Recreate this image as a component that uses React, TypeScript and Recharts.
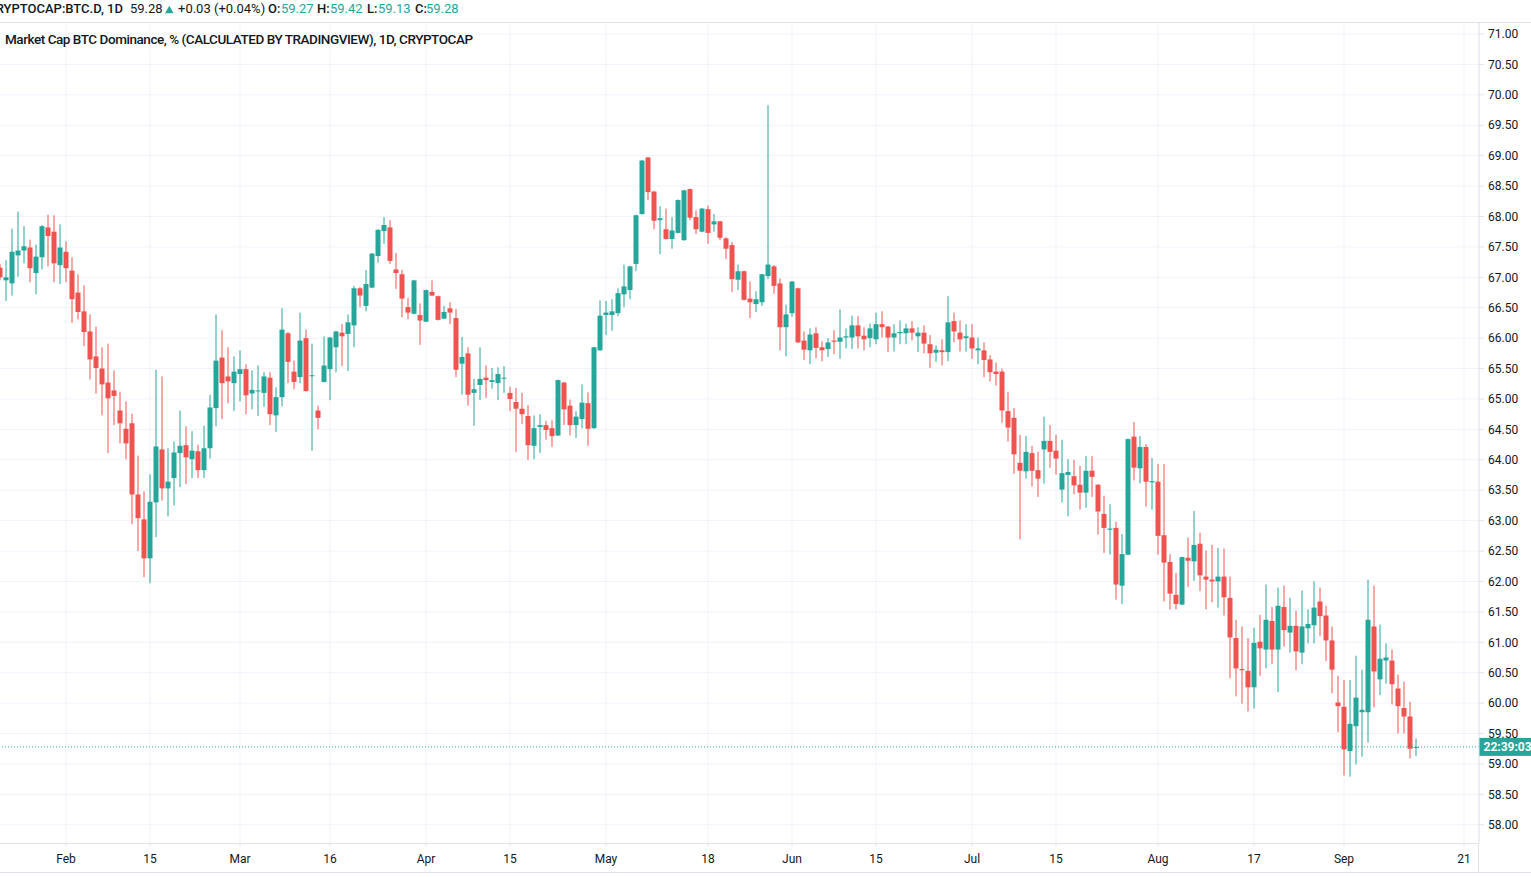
import React from "react";
import {
  Bar,
  CartesianGrid,
  ComposedChart,
  ReferenceLine,
  XAxis,
  YAxis,
} from "recharts";

const UP = "#26a69a";
const DOWN = "#ef5350";
const TEXT = "#131722";
const GRID = "#f0f3fa";
const BORDER = "#e0e3eb";
const FONT = "Roboto, 'Open Sans', sans-serif";

// daily candles from 2020-01-21, the last 10 slots are empty space on the right
const FIRST_DAY = Date.UTC(2020, 0, 21);
const TOTAL_DAYS = 247;

// one line per month: Jan (from 21), Feb ... Sep (to 13)
const opens = [
  67.16, 66.95, 66.9, 67.36, 67.44, 67.49, 67.07, 67.33, 67.82, 67.75, 67.2,
  67.42, 67.11, 66.75, 66.44, 66.11, 65.7, 65.5, 65.27, 65.14, 64.81, 64.51, 64.6, 63.43, 63.02, 62.38, 63.3, 64.17, 63.53, 63.7, 64.11, 64.24, 64.01, 64.14, 63.83, 64.19, 64.85, 65.68, 65.37, 65.26,
  65.41, 65.49, 65.09, 65.13, 65.1, 65.35, 64.73, 65.03, 66.08, 65.45, 65.36, 66.0, 65.38, 64.81, 65.28, 65.49, 65.85, 66.09, 66.07, 66.21, 66.82, 66.53, 66.83, 67.35, 67.76, 67.82, 67.13, 67.05, 66.51, 66.4, 66.38,
  66.27, 66.76, 66.69, 66.32, 66.49, 66.33, 65.58, 65.75, 65.1, 65.23, 65.35, 65.28, 65.26, 65.34, 65.1, 64.95, 64.84, 64.72, 64.23, 64.54, 64.57, 64.52, 64.4, 65.27, 64.89, 64.57, 64.67, 64.93, 64.52, 65.8,
  66.38, 66.38, 66.41, 66.72, 66.79, 67.22, 68.04, 68.97, 68.41, 67.94, 67.79, 67.63, 67.73, 67.61, 68.45, 67.99, 67.75, 68.12, 67.87, 67.92, 67.64, 67.53, 66.96, 67.1, 66.65, 66.56, 66.59, 67.02, 67.18, 66.9, 66.18,
  66.41, 66.82, 65.96, 65.8, 66.08, 65.85, 65.82, 65.96, 65.94, 66.01, 66.01, 66.21, 66.04, 66.0, 65.98, 66.23, 66.19, 66.01, 66.08, 66.08, 66.16, 66.03, 66.09, 65.9, 65.76, 65.8, 65.77, 66.28, 66.09, 66.0,
  66.01, 65.8, 65.8, 65.65, 65.45, 65.45, 64.8, 64.69, 63.95, 63.81, 64.11, 63.83, 64.17, 64.31, 64.15, 63.51, 63.75, 63.73, 63.59, 63.46, 63.82, 63.59, 63.11, 62.85, 62.88, 61.93, 62.44, 64.38, 63.86, 64.21, 63.63,
  63.64, 62.76, 62.32, 61.78, 61.62, 62.39, 62.33, 62.62, 62.08, 62.03, 62.0, 62.08, 61.73, 61.07, 60.56, 60.53, 60.26, 61.01, 60.88, 61.35, 60.88, 61.58, 61.16, 61.27, 60.83, 61.23, 61.28, 61.67, 61.44, 61.03, 60.01,
  59.94, 59.21, 59.62, 59.85, 59.85, 61.26, 60.39, 60.7, 60.7, 60.24, 59.92, 59.78, 59.27,
];

const highs = [
  67.22, 67.28, 67.8, 68.08, 67.84, 67.62, 67.54, 67.86, 68.03, 68.02, 67.87,
  67.59, 67.33, 67.05, 66.87, 66.39, 66.19, 65.85, 65.91, 65.47, 65.12, 64.96, 64.76, 64.07, 63.48, 63.76, 65.48, 65.37, 64.19, 64.3, 64.81, 64.55, 64.47, 64.25, 64.56, 65.07, 66.39, 66.13, 65.85, 65.7,
  65.8, 65.57, 65.47, 65.55, 65.44, 65.44, 65.19, 66.49, 66.1, 65.63, 66.42, 66.14, 65.91, 64.89, 66.03, 66.02, 66.12, 66.23, 66.39, 66.86, 66.84, 67.12, 67.4, 67.79, 67.99, 67.94, 67.4, 67.12, 66.66, 66.96, 66.57,
  66.8, 66.95, 66.7, 66.53, 66.59, 66.48, 66.02, 65.85, 65.33, 65.85, 65.55, 65.51, 65.52, 65.54, 65.2, 65.18, 65.1, 64.9, 64.73, 64.75, 64.64, 64.65, 65.32, 65.28, 64.99, 64.8, 65.24, 65.11, 65.86, 66.62,
  66.61, 66.64, 66.82, 67.21, 67.19, 68.03, 68.93, 68.98, 68.42, 68.17, 68.13, 67.99, 68.28, 68.44, 68.46, 68.1, 68.14, 68.18, 68.04, 67.93, 67.66, 67.58, 67.21, 67.11, 66.93, 66.77, 67.06, 69.83, 67.2, 66.98, 66.55,
  66.94, 66.83, 66.11, 66.16, 66.18, 65.95, 66.0, 66.13, 66.47, 66.16, 66.37, 66.36, 66.18, 66.24, 66.42, 66.44, 66.2, 66.23, 66.29, 66.24, 66.28, 66.18, 66.21, 66.05, 65.88, 65.98, 66.69, 66.42, 66.29, 66.23,
  66.23, 66.01, 65.93, 65.72, 65.6, 65.5, 65.12, 64.85, 64.41, 64.39, 64.23, 64.13, 64.71, 64.57, 64.41, 64.33, 64.01, 64.0, 63.9, 64.06, 64.06, 63.6, 63.41, 63.27, 62.98, 62.78, 64.35, 64.62, 64.39, 64.26, 64.03,
  63.93, 63.93, 62.45, 62.14, 62.41, 62.72, 63.16, 62.8, 62.51, 62.6, 62.55, 62.54, 62.08, 61.37, 61.26, 61.07, 61.24, 61.45, 61.95, 61.58, 61.9, 61.93, 61.73, 61.52, 61.85, 61.54, 62.0, 61.9, 61.6, 61.26, 60.45,
  60.38, 60.38, 60.78, 60.55, 62.03, 61.93, 61.29, 60.98, 60.88, 60.47, 60.35, 60.02, 59.42,
];

const lows = [
  66.95, 66.61, 66.7, 67.01, 67.23, 66.92, 66.72, 67.13, 67.18, 66.92, 66.89,
  66.92, 66.25, 66.31, 65.87, 65.32, 65.09, 64.73, 64.11, 64.57, 64.27, 64.01, 62.94, 62.5, 62.07, 61.97, 62.73, 63.33, 63.07, 63.25, 63.55, 63.6, 63.7, 63.7, 63.7, 64.02, 64.55, 64.67, 64.93, 64.8,
  64.96, 64.75, 64.83, 64.72, 64.87, 64.57, 64.46, 64.88, 65.26, 65.16, 65.26, 65.12, 64.15, 64.5, 65.27, 64.98, 65.44, 65.54, 65.46, 65.85, 66.51, 66.44, 66.82, 67.24, 67.55, 67.22, 66.81, 66.34, 66.31, 66.39, 65.89,
  66.26, 66.69, 66.29, 66.31, 66.23, 65.36, 65.07, 64.89, 64.56, 64.98, 65.02, 65.17, 64.98, 65.1, 64.8, 64.13, 64.59, 64.0, 64.01, 64.11, 64.33, 64.21, 64.39, 64.57, 64.4, 64.36, 64.52, 64.23, 64.51, 65.79,
  66.05, 66.12, 66.36, 66.51, 66.64, 67.1, 68.03, 68.27, 67.79, 67.38, 67.62, 67.47, 67.72, 67.6, 67.94, 67.71, 67.74, 67.55, 67.75, 67.61, 67.3, 66.76, 66.79, 66.62, 66.33, 66.43, 66.53, 66.97, 66.73, 65.8, 65.7,
  66.35, 65.92, 65.64, 65.57, 65.67, 65.62, 65.69, 65.74, 65.66, 65.83, 65.82, 65.83, 65.8, 65.85, 65.9, 66.01, 65.77, 65.78, 65.9, 65.9, 65.96, 65.77, 65.75, 65.51, 65.61, 65.55, 65.62, 65.93, 65.78, 65.78,
  65.66, 65.57, 65.36, 65.29, 65.22, 64.61, 64.3, 63.77, 62.69, 63.69, 63.56, 63.39, 63.61, 63.87, 63.76, 63.3, 63.07, 63.43, 63.18, 63.21, 63.39, 62.77, 62.47, 62.44, 61.7, 61.63, 62.43, 63.66, 63.61, 63.23, 63.18,
  62.44, 61.67, 61.54, 61.54, 61.61, 61.91, 62.01, 61.84, 61.54, 61.66, 61.57, 61.44, 60.41, 60.11, 59.99, 59.86, 59.91, 60.45, 60.57, 60.64, 60.18, 60.93, 60.83, 60.54, 60.64, 60.98, 60.98, 61.1, 60.69, 60.16, 59.52,
  58.81, 58.79, 58.99, 59.12, 59.35, 59.93, 60.13, 60.32, 59.98, 59.5, 59.5, 59.09, 59.13,
];

const closes = [
  67.0, 67.0, 67.42, 67.44, 67.51, 67.15, 67.34, 67.84, 67.68, 67.23, 67.49,
  67.15, 66.64, 66.43, 66.1, 65.65, 65.51, 65.24, 65.01, 65.05, 64.6, 64.27, 63.43, 63.04, 62.38, 63.31, 64.22, 63.53, 63.64, 64.12, 64.23, 64.04, 64.15, 63.83, 64.19, 64.86, 65.63, 65.26, 65.29, 65.45,
  65.49, 65.06, 65.15, 65.14, 65.37, 64.75, 65.03, 66.14, 65.61, 65.28, 65.96, 65.13, 65.39, 64.69, 65.55, 66.01, 66.11, 66.03, 66.26, 66.82, 66.7, 66.89, 67.39, 67.78, 67.86, 67.27, 67.07, 66.65, 66.42, 66.95, 66.29,
  66.79, 66.7, 66.3, 66.43, 66.42, 65.48, 65.69, 65.07, 65.16, 65.33, 65.31, 65.31, 65.41, 65.35, 65.0, 64.84, 64.75, 64.24, 64.52, 64.57, 64.49, 64.39, 65.31, 64.83, 64.57, 64.71, 64.94, 64.51, 65.85, 66.37,
  66.42, 66.44, 66.74, 66.85, 67.18, 68.02, 68.92, 68.4, 67.93, 67.97, 67.63, 67.77, 68.27, 68.43, 67.98, 67.79, 68.13, 67.73, 67.92, 67.65, 67.47, 66.97, 67.1, 66.63, 66.59, 66.64, 67.05, 67.21, 66.86, 66.18, 66.39,
  66.93, 65.93, 65.81, 66.06, 65.84, 65.8, 65.93, 65.94, 66.01, 66.03, 66.21, 66.03, 65.98, 66.16, 66.23, 66.18, 66.01, 66.08, 66.1, 66.16, 66.09, 66.09, 65.91, 65.75, 65.81, 65.77, 66.26, 66.11, 65.98, 66.03,
  65.83, 65.83, 65.64, 65.44, 65.41, 64.81, 64.53, 64.09, 63.82, 64.13, 63.82, 63.69, 64.31, 64.13, 64.02, 63.78, 63.8, 63.58, 63.46, 63.82, 63.72, 63.15, 62.88, 62.87, 61.95, 62.45, 64.34, 63.87, 64.21, 63.64, 63.65,
  62.75, 62.31, 61.8, 61.63, 62.4, 62.34, 62.6, 62.1, 62.03, 62.0, 62.08, 61.74, 61.08, 60.57, 60.54, 60.26, 60.99, 60.9, 61.37, 60.88, 61.6, 61.2, 61.27, 60.85, 61.26, 61.3, 61.57, 61.43, 61.03, 60.55, 59.95,
  59.24, 59.66, 60.09, 59.89, 61.37, 60.52, 60.73, 60.75, 60.31, 59.95, 59.78, 59.25, 59.28,
];

const tickDates = [
  "2020-02-01", "2020-02-15", "2020-03-01", "2020-03-16", "2020-04-01", "2020-04-15",
  "2020-05-01", "2020-05-18", "2020-06-01", "2020-06-15", "2020-07-01", "2020-07-15",
  "2020-08-01", "2020-08-17", "2020-09-01", "2020-09-21",
];
const tickLabels = ["Feb", "15", "Mar", "16", "Apr", "15", "May", "18", "Jun", "15", "Jul", "15", "Aug", "17", "Sep", "21"];

const priceTicks = [
  58, 58.5, 59, 59.5, 60, 60.5, 61, 61.5, 62, 62.5, 63, 63.5, 64, 64.5,
  65, 65.5, 66, 66.5, 67, 67.5, 68, 68.5, 69, 69.5, 70, 70.5, 71,
];

const lastPrice = 59.28;
const countdown = "22:39:03";

const chartData = Array.from({ length: TOTAL_DAYS }, (_, i) => ({
  date: new Date(FIRST_DAY + i * 86400000).toISOString().slice(0, 10),
  open: opens[i],
  high: highs[i],
  low: lows[i],
  close: closes[i],
}));

const labelFor = (d: string) => tickLabels[tickDates.indexOf(d)] ?? "";

function Candle(props: any) {
  const { x, y, width, height } = props;
  const p = props.payload ?? props;
  if (p == null || p.high == null || p.low == null) return null;
  const perUnit = height / (p.high - p.low);
  const yOf = (v: number) => y + (p.high - v) * perUnit;
  const up = p.close >= p.open;
  const color = up ? UP : DOWN;
  const cx = x + width / 2;
  const top = yOf(Math.max(p.open, p.close));
  const bottom = yOf(Math.min(p.open, p.close));
  return (
    <g>
      <line x1={cx} x2={cx} y1={y} y2={y + height} stroke={color} strokeWidth={1} />
      <rect x={cx - 2.5} y={top} width={5} height={Math.max(1, bottom - top)} fill={color} />
    </g>
  );
}

function PriceTag(props: any) {
  const vb = props.viewBox;
  if (!vb) return null;
  const left = vb.x + vb.width;
  return (
    <g>
      <rect x={left} y={vb.y - 9} width={60} height={18} fill={UP} />
      <text x={left + 4.5} y={vb.y + 4.5} fill="#fff" fontSize={12} fontWeight={700} fontFamily={FONT}>
        {countdown}
      </text>
    </g>
  );
}

export default function App() {
  return (
    <div
      style={{
        position: "absolute",
        left: 0,
        top: 0,
        width: 1531,
        height: 877,
        overflow: "hidden",
        background: "#fff",
        fontFamily: FONT,
      }}
    >
      <div style={{ position: "absolute", left: -3.5, top: 0 }}>
        <ComposedChart
          width={1534.5}
          height={877}
          data={chartData}
          margin={{ top: 22.5, right: 0, bottom: 4.5, left: 0 }}
          barCategoryGap={0}
        >
          <CartesianGrid stroke={GRID} />
          <XAxis
            dataKey="date"
            ticks={tickDates}
            interval={0}
            tickFormatter={labelFor}
            height={29}
            axisLine={{ stroke: BORDER }}
            tickLine={{ stroke: BORDER }}
            tickSize={3}
            tickMargin={8}
            tick={{ fontSize: 12, fill: TEXT, fontFamily: FONT }}
          />
          <YAxis
            orientation="right"
            width={52.5}
            type="number"
            domain={[57.692, 71.189]}
            allowDataOverflow
            ticks={priceTicks}
            interval={0}
            tickFormatter={(v: number) => v.toFixed(2)}
            axisLine={{ stroke: BORDER }}
            tickLine={{ stroke: BORDER }}
            tickSize={5}
            tickMargin={4}
            tick={{ fontSize: 12, fill: TEXT, fontFamily: FONT, textAnchor: "start" }}
          />
          <Bar
            dataKey={(d: any) => (d.low == null ? null : [d.low, d.high])}
            shape={(p: any) => <Candle {...p} />}
            isAnimationActive={false}
          />
          <ReferenceLine
            y={lastPrice}
            stroke={UP}
            strokeDasharray="1 2"
            label={(p: any) => <PriceTag {...p} />}
          />
        </ComposedChart>
      </div>

      {/* pane borders */}
      <div style={{ position: "absolute", left: 0, top: 22, width: 1531, height: 1, background: BORDER }} />
      <div style={{ position: "absolute", left: 0, top: 872, width: 1531, height: 1, background: BORDER }} />
      <div style={{ position: "absolute", left: 1478, top: 843, width: 1, height: 30, background: BORDER }} />

      {/* legend */}
      <svg width={1531} height={50} style={{ position: "absolute", left: 0, top: 0 }} fontFamily={FONT}>
        <text x={123} y={13.3} textAnchor="end" fontSize={13} fontWeight={500} fill={TEXT}>
          CRYPTOCAP:BTC.D, 1D
        </text>
        <text x={130} y={13.3} fontSize={13} fill={TEXT}>59.28</text>
        <polygon points="165,13.3 173.6,13.3 169.3,5.8" fill={UP} />
        <text x={178} y={13.3} fontSize={13} fill={TEXT}>+0.03 (+0.04%)</text>
        <text x={268} y={13.3} fontSize={13} fontWeight={500} fill={TEXT}>O:</text>
        <text x={281} y={13.3} fontSize={13} fill={UP}>59.27</text>
        <text x={317} y={13.3} fontSize={13} fontWeight={500} fill={TEXT}>H:</text>
        <text x={330} y={13.3} fontSize={13} fill={UP}>59.42</text>
        <text x={367} y={13.3} fontSize={13} fontWeight={500} fill={TEXT}>L:</text>
        <text x={378} y={13.3} fontSize={13} fill={UP}>59.13</text>
        <text x={415} y={13.3} fontSize={13} fontWeight={500} fill={TEXT}>C:</text>
        <text x={426} y={13.3} fontSize={13} fill={UP}>59.28</text>
        <text
          x={5}
          y={44.3}
          fontSize={13.5}
          fontWeight={500}
          fill={TEXT}
          textLength={468}
          lengthAdjust="spacing"
        >
          Market Cap BTC Dominance, % (CALCULATED BY TRADINGVIEW), 1D, CRYPTOCAP
        </text>
      </svg>
    </div>
  );
}
